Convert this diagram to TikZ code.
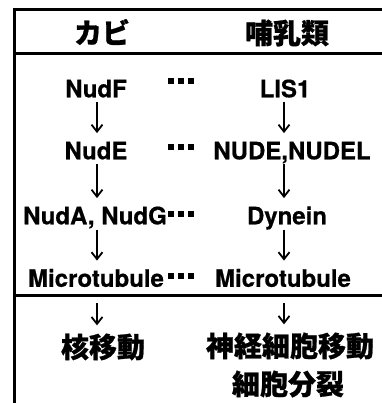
\documentclass[tikz,border=0pt]{standalone}
\usepackage{fontspec}
\setmainfont{TeX Gyre Heros}[BoldFeatures={FakeBold=0.6}]
\newfontfamily\cjk{Noto Sans CJK JP}[BoldFeatures={FakeBold=0.8}]
\usetikzlibrary{arrows.meta}
\begin{document}
\begin{tikzpicture}[x=1pt,y=-1pt,
  lat/.style={font=\fontsize{24}{24}\selectfont\bfseries, inner sep=0pt, text height=17pt, text depth=0pt, anchor=south},
  jp/.style={font=\fontsize{28}{28}\selectfont\cjk\bfseries, inner sep=0pt},
  tablerule/.style={line width=3pt, line cap=rect},
  arr/.style={line width=1.8pt, -{Straight Barb[length=7pt,width=11pt]}, shorten <=5pt, shorten >=9pt},
  dotsbox/.style={inner sep=0pt}]
\useasboundingbox (0,0) rectangle (381,403);
% table rules
\draw[tablerule] (14,10) -- (382,10);
\draw[tablerule] (14,10) -- (14,404);
\draw[tablerule] (14,54) -- (382,54);
\draw[tablerule] (14,295) -- (382,295);
% headers
\node[jp] (kabi) at (102,32) {カビ};
\node[jp] (honyu) at (287,33) {哺乳類};
% rows
\node[lat] (nudf) at (96,97.5) {NudF};
\node[lat] (lis) at (285,97.5) {LIS1};
\node[lat] (nude) at (96,159.5) {NudE};
\node[lat] (nudel) at (292,159.5) {NUDE,NUDEL};
\node[lat] (nuda) at (95,224.5) {NudA, NudG};
\node[lat] (dyn) at (287,224.5) {Dynein};
\node[lat] (mtl) at (96,287) {Microtubule};
\node[lat] (mtr) at (283,287) {Microtubule};
% correspondence dots
\newcommand{\sqdots}{\rule{6pt}{6pt}\hspace{4pt}\rule{6pt}{6pt}\hspace{4pt}\rule{6pt}{6pt}}
\node[dotsbox] (d1) at (181,81) {\sqdots};
\node[dotsbox] (d2) at (181,147.5) {\sqdots};
\node[dotsbox] (d3) at (181,213.5) {\sqdots};
\node[dotsbox] (d4) at (181,275.5) {\sqdots};
% bottom texts
\node[jp] (kaku) at (103,347) {核移動};
\node[jp] (shinkei) at (290,346) {神経細胞移動};
\node[jp] (bunretsu) at (288,384) {細胞分裂};
% arrow columns
\coordinate (cl) at (97,0);
\coordinate (cr) at (284,0);
\draw[arr] (nudf.south -| cl) -- (nude.north -| cl);
\draw[arr] (nude.south -| cl) -- (nuda.north -| cl);
\draw[arr] (nuda.south -| cl) -- (mtl.north -| cl);
\draw[arr] (lis.south -| cr) -- (nudel.north -| cr);
\draw[arr] (nudel.south -| cr) -- (dyn.north -| cr);
\draw[arr] (dyn.south -| cr) -- (mtr.north -| cr);
\draw[arr, shorten <=16pt, shorten >=8pt] (mtl.south -| cl) -- (kaku.north -| cl);
\draw[arr, shorten <=16pt, shorten >=8pt] (mtr.south -| cr) -- (shinkei.north -| cr);
\end{tikzpicture}
\end{document}
